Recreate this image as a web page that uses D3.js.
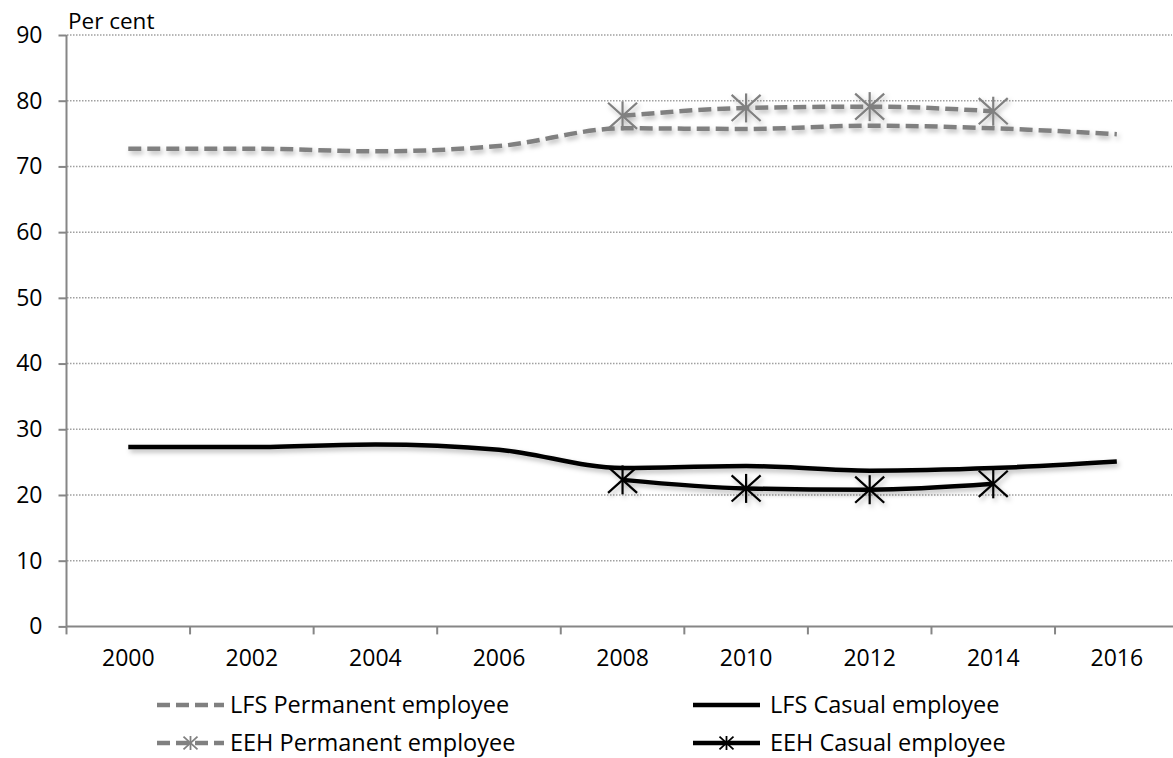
<!DOCTYPE html>
<html>
<head>
<meta charset="utf-8">
<script src="https://cdn.jsdelivr.net/npm/d3@7"></script>
<style>
  html, body { margin: 0; padding: 0; background: #fff; }
  svg { display: block; font-family: "Open Sans", "Liberation Sans", sans-serif; }
</style>
</head>
<body>
<svg id="chart" width="1173" height="758"></svg>
<script>
// Share of employees (per cent), by survey and employment type
const years = ["2000", "2002", "2004", "2006", "2008", "2010", "2012", "2014", "2016"];
const lfsPermanent = [72.7, 72.7, 72.3, 73.1, 75.8, 75.7, 76.2, 75.8, 74.9];
const lfsCasual    = [27.3, 27.3, 27.7, 26.9, 24.1, 24.4, 23.7, 24.1, 25.1];
const eehYears     = ["2008", "2010", "2012", "2014"];
const eehPermanent = [77.7, 78.9, 79.1, 78.4];
const eehCasual    = [22.3, 21.0, 20.8, 21.7];
const yTicks = [0, 10, 20, 30, 40, 50, 60, 70, 80, 90];
const legendLabels = ["LFS Permanent employee", "LFS Casual employee", "EEH Permanent employee", "EEH Casual employee"];

const svg = d3.select("#chart");
const grey = "#808080";
const fontSize = 23;

const x = d3.scaleBand().domain(years).range([66.5, 1178.6]);
const y = d3.scaleLinear().domain([0, 90]).range([626.4, 35]);
const cx = d => x(d) + x.bandwidth() / 2;

// soft shadow under series
const defs = svg.append("defs");
const f = defs.append("filter").attr("id", "shadow")
  .attr("x", "-20%").attr("y", "-50%").attr("width", "140%").attr("height", "200%");
f.append("feDropShadow").attr("dx", 2).attr("dy", 3).attr("stdDeviation", 2.5)
  .attr("flood-color", "#000").attr("flood-opacity", 0.28);

// horizontal gridlines
svg.append("g").selectAll("line").data(yTicks.filter(t => t > 0)).join("line")
  .attr("x1", 67).attr("x2", 1172)
  .attr("y1", d => y(d)).attr("y2", d => y(d))
  .attr("stroke", "#a0a0a0").attr("stroke-width", 1.5).attr("stroke-dasharray", "1.5,1.5");

// y axis
const yAxis = svg.append("g").attr("transform", "translate(66.5,0)")
  .call(d3.axisLeft(y).tickValues(yTicks).tickSize(8).tickPadding(16));
yAxis.select(".domain").attr("stroke", "#868686").attr("stroke-width", 2).attr("d", `M0,${y(90)}V${y(0)}`);
yAxis.selectAll(".tick line").attr("stroke", "#868686").attr("stroke-width", 2);
yAxis.selectAll(".tick text").attr("font-size", fontSize).attr("fill", "#000")
  .attr("font-family", "'Open Sans', sans-serif");

// x axis with ticks at category boundaries
const xAxis = svg.append("g").attr("transform", `translate(0,${y(0)})`)
  .call(d3.axisBottom(x).tickSize(0).tickPadding(23));
xAxis.select(".domain").attr("stroke", "#868686").attr("stroke-width", 2)
  .attr("d", `M66.5,0H1178.6`);
xAxis.selectAll(".tick text").attr("font-size", fontSize).attr("fill", "#000")
  .attr("font-family", "'Open Sans', sans-serif");
const bounds = years.map(d => x(d)).concat([x(years[years.length - 1]) + x.bandwidth()]);
xAxis.append("g").selectAll("line").data(bounds).join("line")
  .attr("x1", d => d).attr("x2", d => d).attr("y1", 0).attr("y2", 8)
  .attr("stroke", "#868686").attr("stroke-width", 2);

// axis title
svg.append("text").attr("x", 68).attr("y", 29).attr("font-size", 22.5).attr("fill", "#000").text("Per cent");

const line = d3.line().curve(d3.curveMonotoneX);

function asterisk(g, r, color, w) {
  g.append("line").attr("x1", 0).attr("x2", 0).attr("y1", -r).attr("y2", r);
  g.append("line").attr("x1", -r).attr("x2", r).attr("y1", -r * 0.9).attr("y2", r * 0.9);
  g.append("line").attr("x1", -r).attr("x2", r).attr("y1", r * 0.9).attr("y2", -r * 0.9);
  g.selectAll("line").attr("stroke", color).attr("stroke-width", w);
}

const series = svg.append("g").attr("filter", "url(#shadow)");

// LFS lines
series.append("path")
  .attr("d", line(years.map((d, i) => [cx(d), y(lfsPermanent[i])])))
  .attr("fill", "none").attr("stroke", grey).attr("stroke-width", 4.5)
  .attr("stroke-dasharray", "13,6");
series.append("path")
  .attr("d", line(years.map((d, i) => [cx(d), y(lfsCasual[i])])))
  .attr("fill", "none").attr("stroke", "#000").attr("stroke-width", 4.5);

// EEH lines with markers
series.append("path")
  .attr("d", line(eehYears.map((d, i) => [cx(d), y(eehPermanent[i])])))
  .attr("fill", "none").attr("stroke", grey).attr("stroke-width", 4.5)
  .attr("stroke-dasharray", "13,6");
series.append("path")
  .attr("d", line(eehYears.map((d, i) => [cx(d), y(eehCasual[i])])))
  .attr("fill", "none").attr("stroke", "#000").attr("stroke-width", 4.5);

eehYears.forEach((d, i) => {
  asterisk(series.append("g").attr("transform", `translate(${cx(d)},${y(eehPermanent[i])})`), 14.5, grey, 2.2);
  asterisk(series.append("g").attr("transform", `translate(${cx(d)},${y(eehCasual[i])})`), 14.5, "#000", 2.2);
});

// legend
const legend = svg.append("g");
const items = [
  { label: legendLabels[0], x: 157, tx: 230, y: 705, color: grey, dash: "13,6", marker: false },
  { label: legendLabels[1], x: 693, tx: 770, y: 705, color: "#000", dash: null, marker: false },
  { label: legendLabels[2], x: 157, tx: 230, y: 743, color: grey, dash: "13,6", marker: true },
  { label: legendLabels[3], x: 693, tx: 770, y: 743, color: "#000", dash: null, marker: true }
];
items.forEach(it => {
  const g = legend.append("g");
  g.append("line").attr("x1", it.x).attr("x2", it.x + 67).attr("y1", it.y).attr("y2", it.y)
    .attr("stroke", it.color).attr("stroke-width", 4.5)
    .attr("stroke-dasharray", it.dash);
  if (it.marker) asterisk(g.append("g").attr("transform", `translate(${it.x + 33.5},${it.y})`), 7, it.color, 1.8);
  g.append("text").attr("x", it.tx).attr("y", it.y + 8).attr("font-size", 23.5).attr("fill", "#000").text(it.label);
});
</script>
</body>
</html>
